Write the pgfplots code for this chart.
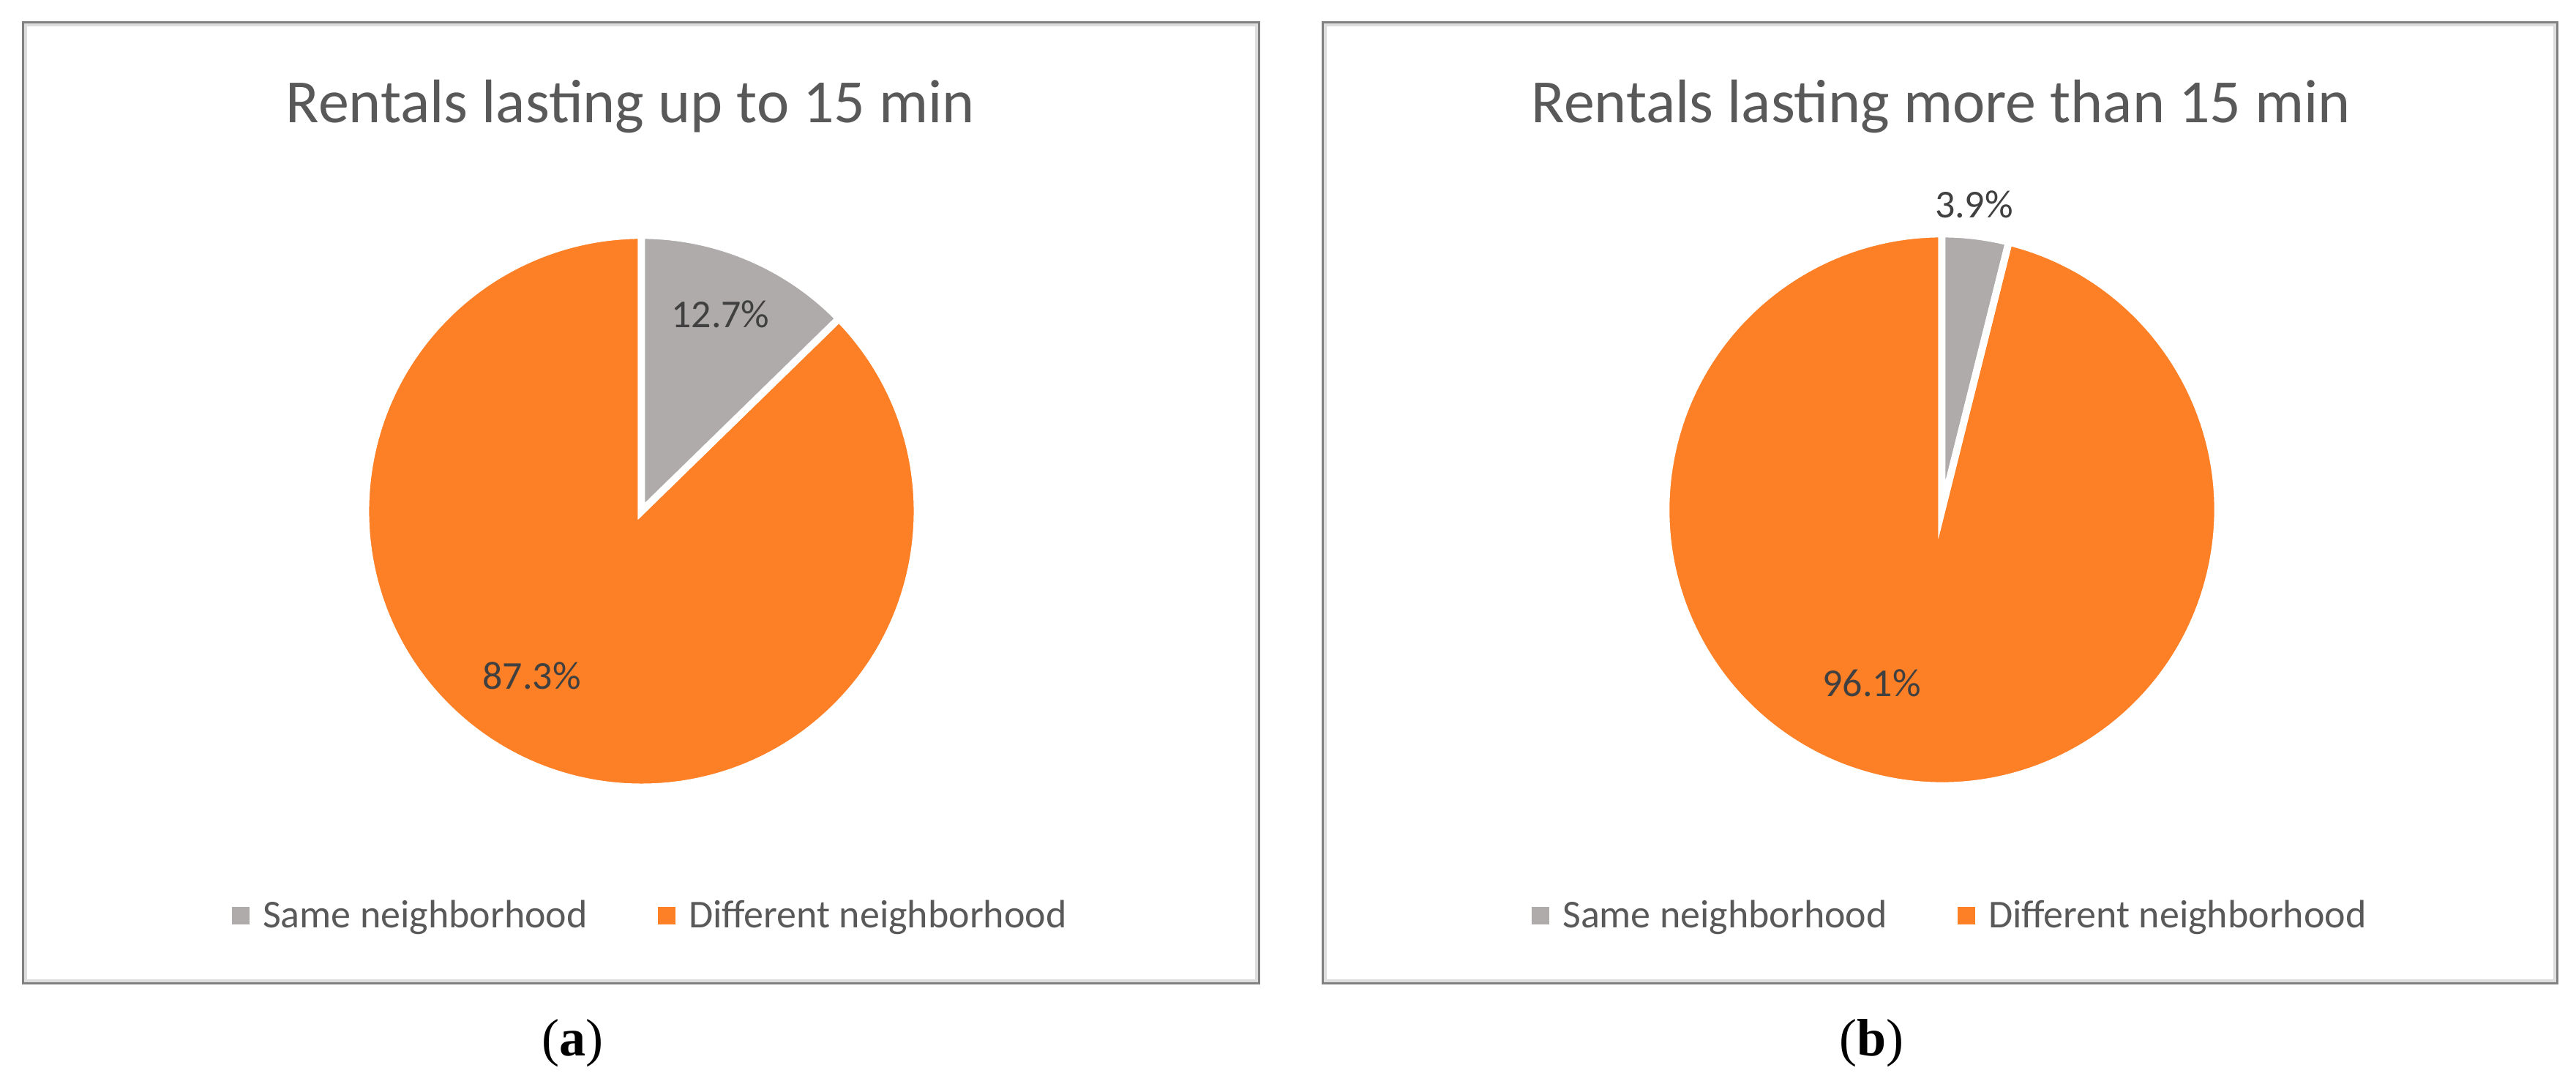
\documentclass[border=0pt]{standalone}
\usepackage{pgfplots}
\pgfplotsset{compat=1.18}
\usepackage{pgfplotstable}
\usepackage{fontspec}
\setmainfont{Carlito}
\newfontfamily\capfont{Liberation Serif}
\definecolor{orangeS}{HTML}{FD7F26}
\definecolor{greyS}{HTML}{AFABAB}
\definecolor{txt}{HTML}{595959}
\definecolor{lbl}{HTML}{404040}
\definecolor{framec}{HTML}{808080}
\definecolor{shadowc}{HTML}{DDDDDD}

% panel, pie centre (px), same %, different %
\pgfplotstableread{
panel cx  cy  same diff
a     877 782 12.7 87.3
b     2654 784 3.9 96.1
}\piedata

\newcommand\titlefont{\fontsize{23.9}{28}\selectfont}
\newcommand\smallfont{\fontsize{15.36}{18}\selectfont}

\pgfplotsset{
  piepanel/.style={
    hide axis, clip=false,
    x=0.01cm, y=0.01cm,
    ymin=0, ymax=1480,
    anchor=origin,
    legend columns=2,
    legend style={draw=none, fill=none, inner sep=0pt, outer sep=0pt,
      font=\smallfont, text=txt, anchor=west,
      nodes={inner sep=0pt, outer sep=0pt},
      /tikz/every odd column/.append style={column sep=0.18cm},
      /tikz/every even column/.append style={column sep=0.96cm}},
    legend cell align=left,
    legend image code/.code={\fill[##1] (0cm,-0.11cm) rectangle (0.23cm,0.11cm);},
  }
}

% draws pie of row #1
\newcommand\drawpie[1]{%
  \pgfplotstablegetelem{#1}{cx}\of\piedata \let\cx\pgfplotsretval
  \pgfplotstablegetelem{#1}{cy}\of\piedata \let\cy\pgfplotsretval
  \pgfplotstablegetelem{#1}{same}\of\piedata \let\same\pgfplotsretval
  \pgfmathsetmacro\endang{90-3.6*\same}
  \fill[orangeS, draw=white, line width=2.8pt, line join=miter]
    (axis cs:\cx,\cy) -- ++(\endang:3.77cm)
    arc[start angle=\endang, end angle=-270, radius=3.77cm] -- cycle;
  \fill[greyS, draw=white, line width=2.8pt, line join=miter]
    (axis cs:\cx,\cy) -- ++(90:3.77cm)
    arc[start angle=90, end angle=\endang, radius=3.77cm] -- cycle;
}

\begin{document}
\begin{tikzpicture}
\useasboundingbox (0,0) rectangle (35.2cm,14.8cm);

% ---------------- panel (a)
\begin{axis}[piepanel, xmin=0, xmax=1765, at={(0cm,0cm)},
  legend style={at={(axis cs:317,229)}}]
  \addlegendimage{greyS}\addlegendentry{Same neighborhood}
  \addlegendimage{orangeS}\addlegendentry{Different neighborhood}
  \draw[framec, line width=0.85pt] (axis cs:31.5,136.5) rectangle (axis cs:1721.5,1450.5);
  \draw[shadowc, line width=1.2pt] (axis cs:35,140) rectangle (axis cs:1718,1447);
  \node[anchor=base, font=\titlefont, text=txt] at (axis cs:862,1313) {Rentals lasting up to 15 min};
  \drawpie{0}
  \node[anchor=base, font=\smallfont, text=lbl] at (axis cs:985,1033) {12.7\%};
  \node[anchor=base, font=\smallfont, text=lbl] at (axis cs:727,539) {87.3\%};
  \node[anchor=base, font=\capfont\fontsize{20.5}{24}\selectfont] at (axis cs:783,38) {(\textbf{a})};
\end{axis}

% ---------------- panel (b)
\begin{axis}[piepanel, xmin=1765, xmax=3520, at={(17.65cm,0cm)},
  legend style={at={(axis cs:2093,229)}}]
  \addlegendimage{greyS}\addlegendentry{Same neighborhood}
  \addlegendimage{orangeS}\addlegendentry{Different neighborhood}
  \draw[framec, line width=0.85pt] (axis cs:1807.5,136.5) rectangle (axis cs:3495.5,1450.5);
  \draw[shadowc, line width=1.2pt] (axis cs:1811,140) rectangle (axis cs:3492,1447);
  \node[anchor=base, font=\titlefont, text=txt] at (axis cs:2653,1313) {Rentals lasting more than 15 min};
  \drawpie{1}
  \node[anchor=base, font=\smallfont, text=lbl] at (axis cs:2698,1183) {3.9\%};
  \node[anchor=base, font=\smallfont, text=lbl] at (axis cs:2558,529) {96.1\%};
  \node[anchor=base, font=\capfont\fontsize{20.5}{24}\selectfont] at (axis cs:2558,38) {(\textbf{b})};
\end{axis}
\end{tikzpicture}
\end{document}
